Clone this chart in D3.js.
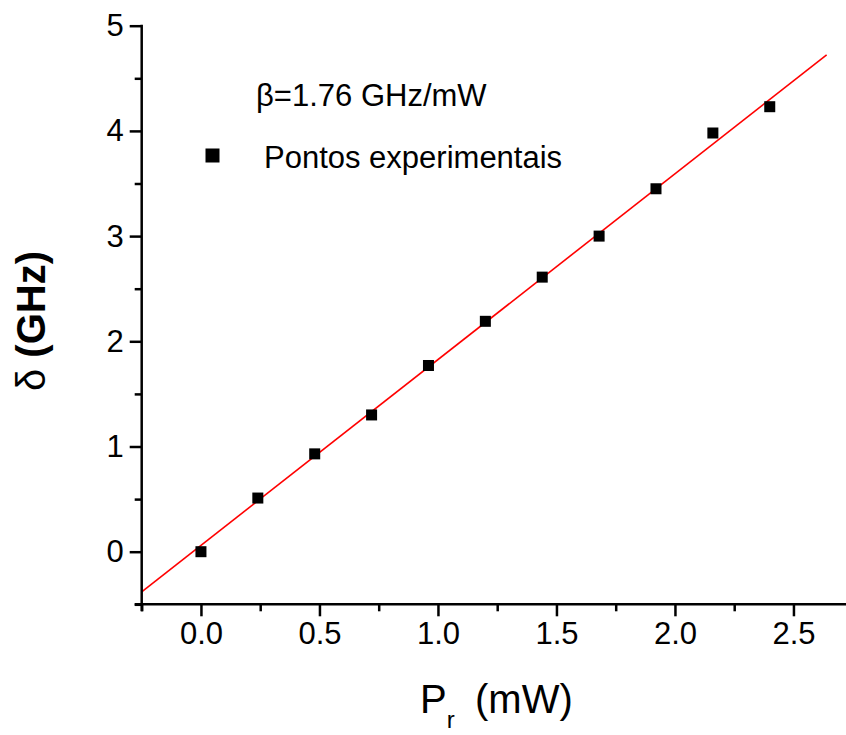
<!DOCTYPE html>
<html>
<head>
<meta charset="utf-8">
<script src="https://cdn.jsdelivr.net/npm/d3@7"></script>
<style>
  html, body { margin: 0; padding: 0; background: #fff; }
  svg { display: block; font-family: "Liberation Sans", Arial, sans-serif; }
</style>
</head>
<body>
<svg id="chart" width="846" height="735"></svg>
<script>
// ---- data ----
const powers = [0.0, 0.24, 0.48, 0.72, 0.96, 1.20, 1.44, 1.68, 1.92, 2.16, 2.40];
const deltas = [0.0, 0.51, 0.93, 1.30, 1.77, 2.19, 2.61, 3.00, 3.45, 3.98, 4.23];
const fitIntercept = 0.06;
const fitSlope = 1.766;
const fitRange = [-0.25, 2.64];
const xMajorTicks = [0.0, 0.5, 1.0, 1.5, 2.0, 2.5];
const xMinorTicks = [-0.25, 0.25, 0.75, 1.25, 1.75, 2.25, 2.75];
const yMajorTicks = [0, 1, 2, 3, 4, 5];
const yMinorTicks = [-0.5, 0.5, 1.5, 2.5, 3.5, 4.5];
const betaLabel = "β=1.76 GHz/mW";
const legendLabel = "Pontos experimentais";

// ---- layout ----
const svg = d3.select("#chart");
const x = d3.scaleLinear().domain([-0.25, 2.75]).range([141.7, 852.7]);
const y = d3.scaleLinear().domain([-0.5, 5]).range([604.3, 25.7]);
const axisW = 2.5;

// fit line
const fitPts = fitRange.map(v => [v, fitIntercept + fitSlope * v]);
svg.append("path")
  .attr("d", d3.line().x(d => x(d[0])).y(d => y(d[1]))(fitPts))
  .attr("fill", "none").attr("stroke", "#ff0000").attr("stroke-width", 1.6);

// points
const ms = 11;
svg.append("g").selectAll("rect").data(powers.map((p, i) => [p, deltas[i]]))
  .enter().append("rect")
  .attr("x", d => x(d[0]) - ms / 2).attr("y", d => y(d[1]) - ms / 2)
  .attr("width", ms).attr("height", ms).attr("fill", "#000");

// axes
function styleAxis(g) {
  g.selectAll("path.domain").attr("stroke", "#000").attr("stroke-width", axisW);
  g.selectAll(".tick line").attr("stroke", "#000").attr("stroke-width", axisW);
  g.selectAll(".tick text").attr("fill", "#000")
    .style("font-family", '"Liberation Sans", Arial, sans-serif').style("font-size", "31px");
}
const gxMinor = svg.append("g").attr("transform", `translate(0,${y(-0.5)})`)
  .call(d3.axisBottom(x).tickValues(xMinorTicks).tickSize(7).tickFormat("").tickSizeOuter(0));
styleAxis(gxMinor);
gxMinor.select("path.domain").attr("d", `M${x(-0.25) - 7},0H${x(2.75)}`);
const gxMajor = svg.append("g").attr("transform", `translate(0,${y(-0.5)})`)
  .call(d3.axisBottom(x).tickValues(xMajorTicks).tickSize(12).tickPadding(6)
    .tickFormat(d3.format(".1f")).tickSizeOuter(0));
gxMajor.select("path.domain").remove();
styleAxis(gxMajor);

const gyMinor = svg.append("g").attr("transform", `translate(${x(-0.25)},0)`)
  .call(d3.axisLeft(y).tickValues(yMinorTicks).tickSize(7).tickFormat("").tickSizeOuter(0));
styleAxis(gyMinor);
gyMinor.select("path.domain").attr("d", `M0,${y(-0.5) + 7}V${y(5) - 1}`);
const gyMajor = svg.append("g").attr("transform", `translate(${x(-0.25)},0)`)
  .call(d3.axisLeft(y).tickValues(yMajorTicks).tickSize(12).tickPadding(6)
    .tickFormat(d3.format("d")).tickSizeOuter(0));
gyMajor.select("path.domain").remove();
styleAxis(gyMajor);

// axis titles
const xt = svg.append("text").attr("x", 420).attr("y", 713).attr("fill", "#000")
  .style("font-size", "40px");
xt.append("tspan").text("P");
xt.append("tspan").attr("dy", 15).style("font-size", "24px").text("r");
xt.append("tspan").attr("x", 475).attr("dy", -15).text("(mW)");

const yt = svg.append("text").attr("transform", "translate(45,321) rotate(-90)")
  .attr("text-anchor", "middle").attr("fill", "#000").style("font-size", "40px");
yt.append("tspan").text("δ ");
yt.append("tspan").style("font-weight", "bold").text("(GHz)");

// legend
svg.append("text").attr("x", 256).attr("y", 106).attr("fill", "#000")
  .style("font-size", "31px").text(betaLabel);
svg.append("rect").attr("x", 205.5).attr("y", 148.5).attr("width", 14).attr("height", 14).attr("fill", "#000");
svg.append("text").attr("x", 264).attr("y", 168).attr("fill", "#000")
  .style("font-size", "31px").text(legendLabel);
</script>
</body>
</html>
